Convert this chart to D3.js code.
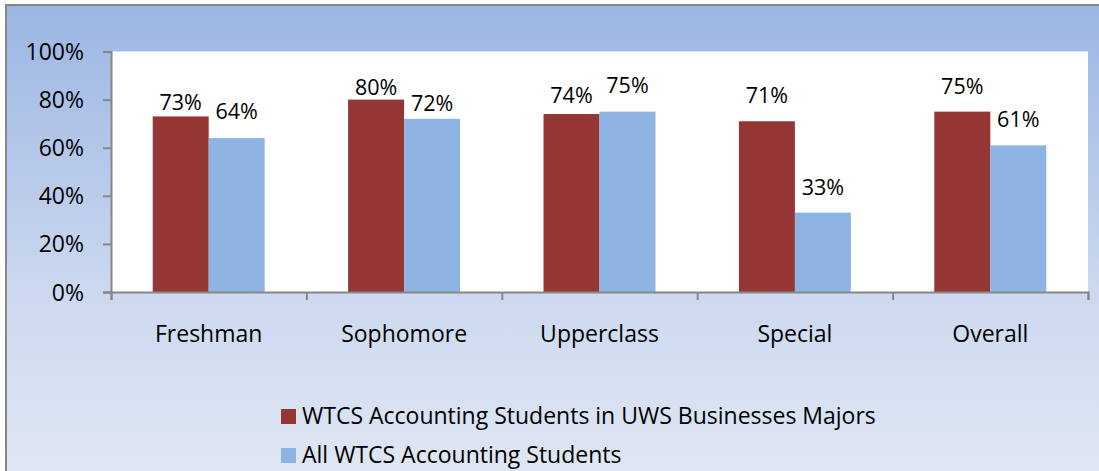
<!DOCTYPE html>
<html>
<head>
<meta charset="utf-8">
<script src="https://cdn.jsdelivr.net/npm/d3@7"></script>
<style>
  body { margin: 0; background: #fff; }
  text { font-family: "Open Sans", sans-serif; fill: #000; }
</style>
</head>
<body>
<script>
var categories = ["Freshman", "Sophomore", "Upperclass", "Special", "Overall"];
var seriesNames = ["WTCS Accounting Students in UWS Businesses Majors", "All WTCS Accounting Students"];
var uwsMajors = [0.73, 0.80, 0.74, 0.71, 0.75];
var allWtcs = [0.64, 0.72, 0.75, 0.33, 0.61];
var yTicks = [0, 0.2, 0.4, 0.6, 0.8, 1.0];

// how far each label baseline sits above its bar (hand placed in the original)
var labelLift = [[6, 19], [5, 8], [11, 19], [18, 18], [18, 18]];

var colors = ["#943634", "#8eb4e3"];

var width = 1099, height = 471;
var plot = { left: 111, right: 1088, top: 51.5, bottom: 292 };

var svg = d3.select("body").append("svg")
    .attr("width", width)
    .attr("height", height);

var defs = svg.append("defs");
var grad = defs.append("linearGradient")
    .attr("id", "bg")
    .attr("x1", 0).attr("y1", 0).attr("x2", 0).attr("y2", 1);
grad.append("stop").attr("offset", "0%").attr("stop-color", "#9bb5e3");
grad.append("stop").attr("offset", "60%").attr("stop-color", "#cbd8ef");
grad.append("stop").attr("offset", "100%").attr("stop-color", "#e0e7f4");

// chart area background + border
svg.append("rect")
    .attr("x", 6).attr("y", 5)
    .attr("width", width).attr("height", height)
    .attr("fill", "url(#bg)")
    .attr("stroke", "#878787")
    .attr("stroke-width", 2);

svg.append("rect")
    .attr("x", plot.left).attr("y", plot.top)
    .attr("width", plot.right - plot.left)
    .attr("height", plot.bottom - plot.top)
    .attr("fill", "#fff");

// gap width 150% like the excel original
var x0 = d3.scaleBand()
    .domain(categories)
    .range([plot.left, plot.right])
    .paddingInner(0.427)
    .paddingOuter(0.2135);

var x1 = d3.scaleBand()
    .domain([0, 1])
    .range([0, x0.bandwidth()]);

var y = d3.scaleLinear()
    .domain([0, 1])
    .range([plot.bottom, plot.top]);

var rows = categories.map((c, i) => ({
    cat: c,
    i: i,
    vals: [uwsMajors[i], allWtcs[i]]
}));

var groups = svg.selectAll(".grp")
    .data(rows)
    .enter().append("g")
    .attr("class", "grp")
    .attr("transform", d => "translate(" + x0(d.cat) + ",0)");

groups.selectAll("rect")
    .data(d => d.vals.map((v, s) => ({ v: v, s: s, i: d.i })))
    .enter().append("rect")
    .attr("x", d => x1(d.s))
    .attr("y", d => y(d.v))
    .attr("width", x1.bandwidth())
    .attr("height", d => y(0) - y(d.v))
    .attr("fill", d => colors[d.s]);

groups.selectAll("text")
    .data(d => d.vals.map((v, s) => ({ v: v, s: s, i: d.i })))
    .enter().append("text")
    .attr("x", d => x1(d.s) + x1.bandwidth() / 2)
    .attr("y", d => y(d.v) - labelLift[d.i][d.s])
    .attr("text-anchor", "middle")
    .style("font-size", "21.5px")
    .text(d => d3.format(".0%")(d.v));

// y axis
var yAxis = svg.append("g")
    .attr("transform", "translate(" + plot.left + ",0)")
    .call(d3.axisLeft(y).tickValues(yTicks).tickFormat(d3.format(".0%")).tickSize(8).tickPadding(19));
yAxis.selectAll("text").style("font-size", "23px").attr("dy", "0.35em");

// x axis with ticks between categories
var xEdges = d3.scaleLinear().domain([0, categories.length]).range([plot.left, plot.right]);
var xAxis = svg.append("g")
    .attr("transform", "translate(0," + plot.bottom + ")")
    .call(d3.axisBottom(xEdges).ticks(categories.length).tickFormat("").tickSize(8));

svg.selectAll(".domain, .tick line")
    .attr("stroke", "#878787")
    .attr("stroke-width", 2);

svg.selectAll(".catlabel")
    .data(categories)
    .enter().append("text")
    .attr("class", "catlabel")
    .attr("x", d => x0(d) + x0.bandwidth() / 2)
    .attr("y", 342)
    .attr("text-anchor", "middle")
    .style("font-size", "23px")
    .text(d => d);

// legend
var legend = svg.selectAll(".leg")
    .data(seriesNames)
    .enter().append("g")
    .attr("class", "leg")
    .attr("transform", (d, i) => "translate(281," + (409 + i * 39) + ")");

legend.append("rect")
    .attr("width", 15).attr("height", 15)
    .attr("fill", (d, i) => colors[i]);

legend.append("text")
    .attr("x", 21).attr("y", 15)
    .style("font-size", "23px")
    .text(d => d);
</script>
</body>
</html>
